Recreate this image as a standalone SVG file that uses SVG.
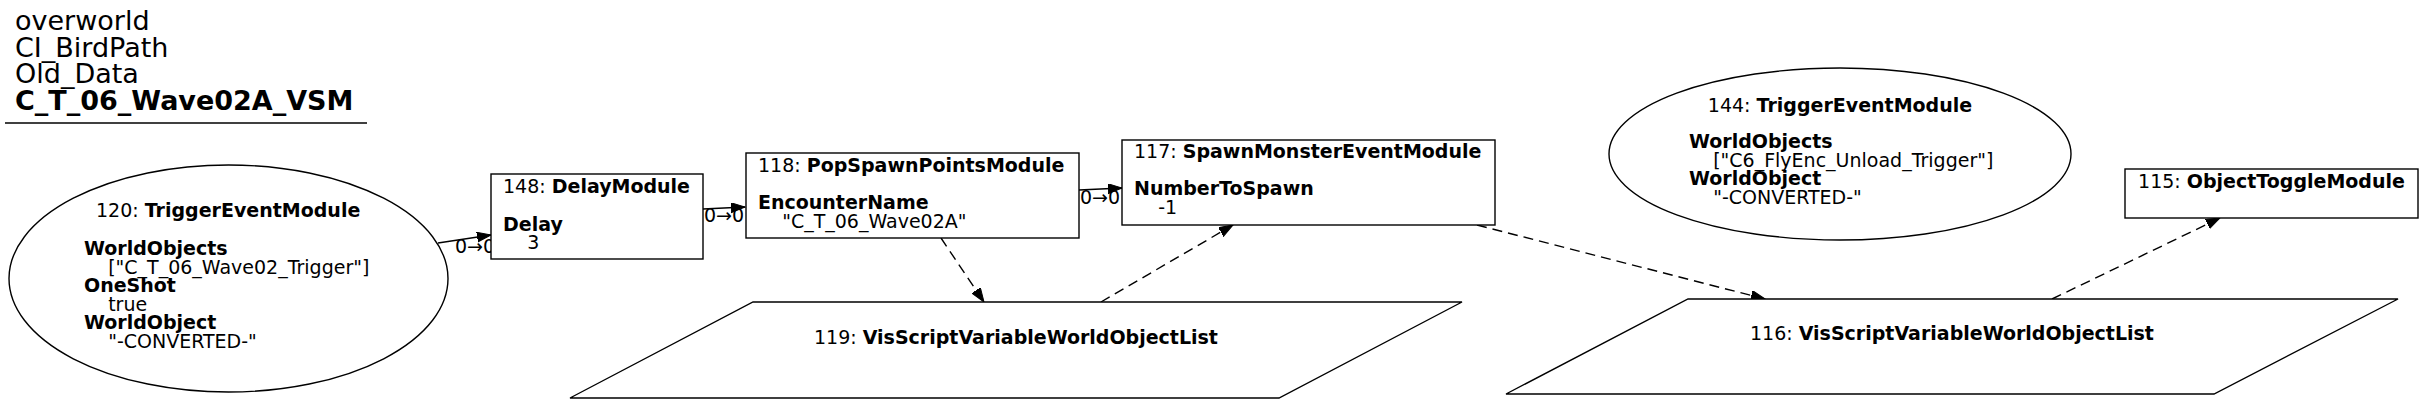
<svg xmlns="http://www.w3.org/2000/svg" width="2424" height="404" viewBox="0 0 2424 404">
<defs>
<style>
text{font-family:"DejaVu Sans","Liberation Sans",sans-serif;font-size:19px;fill:#000}
.b{font-weight:bold}
.title{font-size:27px}
.shape{fill:#fff;stroke:#000;stroke-width:1.4}
.edge{fill:none;stroke:#000;stroke-width:1.4}
.dash{stroke-dasharray:10,6}
</style>
<marker id="arr" markerUnits="userSpaceOnUse" markerWidth="16" markerHeight="12" refX="14" refY="5" orient="auto">
<path d="M0,0 L14,5 L0,10 z" fill="#000" stroke="#000" stroke-width="1"/>
</marker>
</defs>
<rect width="2424" height="404" fill="#fff"/>
<g id="title">
<text class="title" x="15" y="30">overworld</text>
<text class="title" x="15" y="56.7">CI_BirdPath</text>
<text class="title" x="15" y="83.4">Old_Data</text>
<text class="title b" x="15" y="110">C_T_06_Wave02A_VSM</text>
<line x1="5" y1="123" x2="367" y2="123" stroke="#000" stroke-width="1.4"/>
</g>
<g id="connectors">
<path class="edge" d="M438,243 L491,235" marker-end="url(#arr)"/>
<text x="455" y="253">0→0</text>
<path class="edge" d="M703,209 L745,207" marker-end="url(#arr)"/>
<text x="704" y="222">0→0</text>
<path class="edge" d="M1079,190 L1122,188" marker-end="url(#arr)"/>
<text x="1080" y="204">0→0</text>
<path class="edge dash" d="M941,238 L984,302" marker-end="url(#arr)"/>
<path class="edge dash" d="M1101,302 L1233,225" marker-end="url(#arr)"/>
<path class="edge dash" d="M1477,225 L1765,299" marker-end="url(#arr)"/>
<path class="edge dash" d="M2052,299 L2220,218" marker-end="url(#arr)"/>
</g>
<g id="node120">
<ellipse class="shape" cx="228.5" cy="278.5" rx="219.5" ry="113.5"/>
<text x="96" y="217">120: <tspan class="b">TriggerEventModule</tspan></text>
<text class="b" x="84" y="255">WorldObjects</text>
<text x="84" y="273.6" xml:space="preserve">    ["C_T_06_Wave02_Trigger"]</text>
<text class="b" x="84" y="292.2">OneShot</text>
<text x="84" y="310.8" xml:space="preserve">    true</text>
<text class="b" x="84" y="329.4">WorldObject</text>
<text x="84" y="348" xml:space="preserve">    "-CONVERTED-"</text>
</g>
<g id="node148">
<rect class="shape" x="491" y="174" width="212" height="85"/>
<text x="503" y="193">148: <tspan class="b">DelayModule</tspan></text>
<text class="b" x="503" y="230.5">Delay</text>
<text x="503" y="249" xml:space="preserve">    3</text>
</g>
<g id="node118">
<rect class="shape" x="746" y="153" width="333" height="85"/>
<text x="758" y="172">118: <tspan class="b">PopSpawnPointsModule</tspan></text>
<text class="b" x="758" y="209">EncounterName</text>
<text x="758" y="227.6" xml:space="preserve">    "C_T_06_Wave02A"</text>
</g>
<g id="node117">
<rect class="shape" x="1122" y="140" width="373" height="85"/>
<text x="1134" y="158">117: <tspan class="b">SpawnMonsterEventModule</tspan></text>
<text class="b" x="1134" y="195">NumberToSpawn</text>
<text x="1134" y="213.6" xml:space="preserve">    -1</text>
</g>
<g id="node119">
<polygon class="shape" points="753,302 1462,302 1279,398 570,398"/>
<text x="1016" y="344" text-anchor="middle">119: <tspan class="b">VisScriptVariableWorldObjectList</tspan></text>
</g>
<g id="node144">
<ellipse class="shape" cx="1840" cy="154" rx="231" ry="86"/>
<text x="1840" y="112" text-anchor="middle">144: <tspan class="b">TriggerEventModule</tspan></text>
<text class="b" x="1689" y="148">WorldObjects</text>
<text x="1689" y="166.6" xml:space="preserve">    ["C6_FlyEnc_Unload_Trigger"]</text>
<text class="b" x="1689" y="185.2">WorldObject</text>
<text x="1689" y="203.8" xml:space="preserve">    "-CONVERTED-"</text>
</g>
<g id="node116">
<polygon class="shape" points="1688,299 2398,299 2214,394 1506,394"/>
<text x="1952" y="340" text-anchor="middle">116: <tspan class="b">VisScriptVariableWorldObjectList</tspan></text>
</g>
<g id="node115">
<rect class="shape" x="2125" y="169" width="293" height="49"/>
<text x="2271.5" y="188" text-anchor="middle">115: <tspan class="b">ObjectToggleModule</tspan></text>
</g>
</svg>
